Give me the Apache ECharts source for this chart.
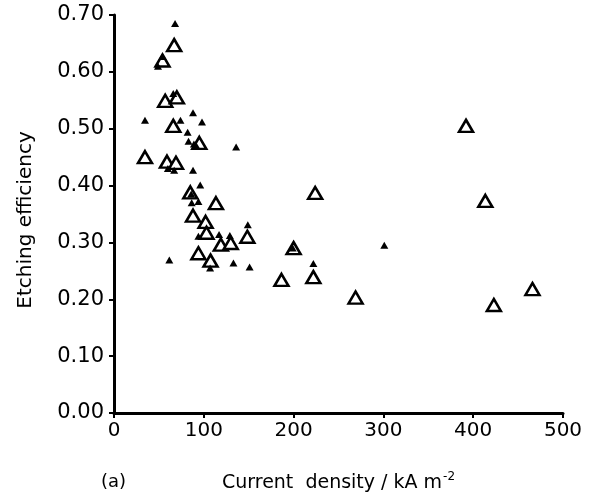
<!DOCTYPE html>
<html>
<head>
<meta charset="utf-8">
<script src="https://cdn.jsdelivr.net/npm/echarts@6/dist/echarts.min.js"></script>
<style>html,body{margin:0;padding:0;background:#fff}#c{width:590px;height:503px}</style>
</head>
<body>
<div id="c"></div>
<script>
// Open triangles (large, hollow)
const openX = [67, 54, 57, 70, 66, 95, 34.5, 59, 69, 85, 113.5, 88, 102, 103, 119, 130, 148.5, 94, 107.5, 186.5, 200, 224, 222, 269, 392, 413.5, 423, 466];
const openY = [0.647, 0.620, 0.549, 0.555, 0.505, 0.475, 0.450, 0.442, 0.440, 0.388, 0.369, 0.347, 0.336, 0.317, 0.296, 0.299, 0.310, 0.281, 0.268, 0.234, 0.290, 0.387, 0.239, 0.203, 0.505, 0.373, 0.190, 0.218];
// Filled triangles (small, solid)
const filledX = [68, 54, 49, 66, 34.5, 74, 88, 98, 82, 83, 89, 92, 136, 60, 67, 88, 96, 86, 86.5, 94, 94, 117, 129, 149, 61.6, 133, 151, 107, 199, 301, 222];
const filledY = [0.685, 0.627, 0.610, 0.562, 0.515, 0.515, 0.528, 0.512, 0.494, 0.478, 0.473, 0.469, 0.468, 0.430, 0.427, 0.427, 0.401, 0.385, 0.370, 0.372, 0.311, 0.314, 0.312, 0.331, 0.269, 0.264, 0.257, 0.255, 0.290, 0.295, 0.263];
const xTicks = [0, 100, 200, 300, 400, 500];
const yTicks = ['0.00', '0.10', '0.20', '0.30', '0.40', '0.50', '0.60', '0.70'];

const FONT = 'DejaVu Sans';
const chart = echarts.init(document.getElementById('c'), null, {renderer: 'canvas'});
const zip = (xs, ys) => xs.map((x, i) => [x, ys[i]]);
chart.setOption({
  backgroundColor: '#fff',
  animation: false,
  grid: {left: 114, right: 27, top: 15, bottom: 90, containLabel: false},
  xAxis: {
    type: 'value', min: xTicks[0], max: xTicks[xTicks.length - 1], interval: 100,
    splitLine: {show: false},
    axisLine: {show: true, onZero: false, lineStyle: {color: '#000', width: 3}},
    axisTick: {show: true, length: 5, lineStyle: {color: '#000', width: 2}},
    axisLabel: {color: '#000', fontFamily: FONT, fontSize: 20, margin: 8},
    name: '{n|Current  density / kA m}{s|-2}',
    nameLocation: 'middle', nameGap: 58,
    nameTextStyle: {padding: [0, 0, 0, 0], rich: {
      n: {color: '#000', fontFamily: FONT, fontSize: 19},
      s: {color: '#000', fontFamily: FONT, fontSize: 12, verticalAlign: 'top', padding: [0, 0, 12, 1]}
    }}
  },
  yAxis: {
    type: 'value', min: 0, max: 0.7, interval: 0.1,
    splitLine: {show: false},
    axisLine: {show: true, onZero: false, lineStyle: {color: '#000', width: 3}},
    axisTick: {show: true, length: 5, lineStyle: {color: '#000', width: 2}},
    axisLabel: {color: '#000', fontFamily: FONT, fontSize: 21, margin: 10,
      formatter: v => yTicks[Math.round(v * 10)]},
    name: 'Etching efficiency', nameLocation: 'middle', nameGap: 78,
    nameTextStyle: {color: '#000', fontFamily: FONT, fontSize: 20, padding: [0, 12, 0, 0]}
  },
  graphic: [{
    type: 'text', left: 101, top: 473,
    style: {text: '(a)', font: '18px "DejaVu Sans"', fill: '#000'}
  }],
  series: [
    {
      type: 'scatter', name: 'open', data: zip(openX, openY),
      symbol: 'triangle', symbolSize: [14, 12],
      itemStyle: {color: '#fff', borderColor: '#000', borderWidth: 2.5, opacity: 1},
      z: 2
    },
    {
      type: 'scatter', name: 'filled', data: zip(filledX, filledY),
      symbol: 'triangle', symbolSize: [8, 7],
      itemStyle: {color: '#000', opacity: 1},
      z: 3
    }
  ]
});
</script>
</body>
</html>
